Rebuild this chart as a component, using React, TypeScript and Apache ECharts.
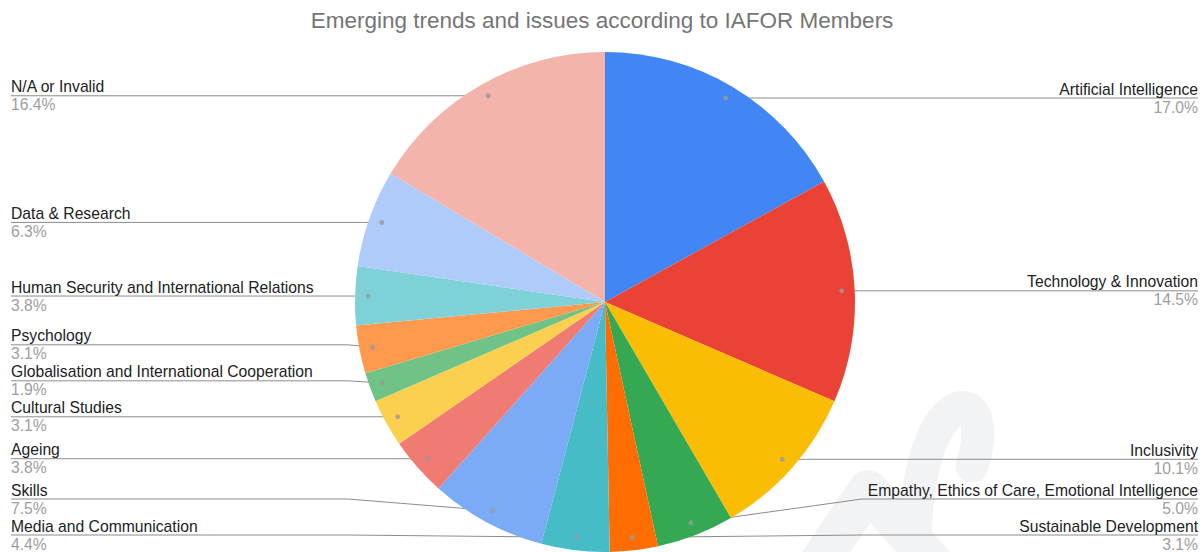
import React, { useEffect, useRef } from 'react';
import * as echarts from 'echarts';

const chartTitle = 'Emerging trends and issues according to IAFOR Members';

const categories = [
  'Artificial Intelligence',
  'Technology & Innovation',
  'Inclusivity',
  'Empathy, Ethics of Care, Emotional Intelligence',
  'Sustainable Development',
  'Media and Communication',
  'Skills',
  'Ageing',
  'Cultural Studies',
  'Globalisation and International Cooperation',
  'Psychology',
  'Human Security and International Relations',
  'Data & Research',
  'N/A or Invalid',
];

const shares = [17.0, 14.5, 10.1, 5.0, 3.1, 4.4, 7.5, 3.8, 3.1, 1.9, 3.1, 3.8, 6.3, 16.4];

const sliceColors = [
  '#4285F4', '#EA4335', '#FBBC04', '#34A853', '#FF6D01', '#46BDC6', '#7BAAF7',
  '#F07B72', '#FCD04F', '#71C287', '#FF994D', '#7ED1D7', '#AECBFA', '#F3B5AB',
];

const FONT = '"Liberation Sans", Arial, Helvetica, sans-serif';
const CX = 605;
const CY = 302;
const R = 250;
const R_DOT = 237;
const LABEL_H = 36;
const LEFT_X = 11;
const RIGHT_X = 1198;
const BOTTOM_LIMIT = 535;

export default function App() {
  const ref = useRef<HTMLDivElement>(null);

  useEffect(() => {
    document.body.style.margin = '0';
    const chart = echarts.init(ref.current as HTMLDivElement, null, { renderer: 'svg' });
    const total = shares.reduce((a, b) => a + b, 0);
    let cum = 0;
    const mids = shares.map((v) => {
      const m = cum + v / 2;
      cum += v;
      return m;
    });
    // anchor points of the leader lines (same geometry as the polar scatter dots)
    const dots = mids.map((m) => {
      const a = (m / total) * 2 * Math.PI;
      return [CX + R_DOT * Math.sin(a), CY - R_DOT * Math.cos(a)];
    });
    const labelY = dots.map((d) => d[1]);
    [true, false].forEach((left) => {
      const idx = dots
        .map((_, i) => i)
        .filter((i) => (dots[i][0] < CX) === left)
        .sort((a, b) => dots[b][1] - dots[a][1]);
      let limit = BOTTOM_LIMIT;
      idx.forEach((i) => {
        const y = Math.min(labelY[i], limit);
        labelY[i] = y;
        limit = y - LABEL_H;
      });
    });

    const visibleData = categories.map((name, i) => ({
      name,
      value: shares[i],
      itemStyle: { color: sliceColors[i] },
    }));
    const labelData = categories.map((name, i) => ({ name, value: shares[i] }));

    chart.setOption({
      animation: false,
      title: {
        text: chartTitle,
        left: 'center',
        top: 4,
        textStyle: { fontFamily: FONT, fontSize: 22.5, fontWeight: 'normal', color: '#757575' },
      },
      polar: { center: [CX, CY], radius: R_DOT },
      angleAxis: { type: 'value', min: 0, max: total, startAngle: 90, clockwise: true, show: false },
      radiusAxis: { type: 'value', min: 0, max: 1, show: false },
      graphic: [
        {
          type: 'polyline',
          silent: true,
          z: -10,
          shape: { points: [[806, 582], [868, 490], [950, 582]] },
          style: { stroke: '#f2f3f5', lineWidth: 40, fill: null, lineJoin: 'round' },
        },
        {
          type: 'bezierCurve',
          silent: true,
          z: -10,
          shape: { x1: 916, y1: 582, cpx1: 904, cpy1: 378, cpx2: 1002, cpy2: 372, x2: 972, y2: 466 },
          style: { stroke: '#f2f3f5', lineWidth: 33, fill: null, lineCap: 'round' },
        },
      ],
      series: [
        {
          type: 'pie',
          center: [CX, CY],
          radius: R,
          startAngle: 90,
          clockwise: true,
          silent: true,
          emphasis: { disabled: true },
          itemStyle: { borderWidth: 0 },
          label: { show: false },
          labelLine: { show: false },
          data: visibleData,
        },
        {
          type: 'pie',
          center: [CX, CY],
          radius: R_DOT,
          startAngle: 90,
          clockwise: true,
          silent: true,
          emphasis: { disabled: true },
          itemStyle: { color: 'transparent', borderWidth: 0 },
          label: {
            show: true,
            position: 'outer',
            alignTo: 'edge',
            edgeDistance: 8,
            formatter: (p: any) => `{n|${p.name}}\n{p|${Number(p.value).toFixed(1)}%}`,
            rich: {
              n: { fontFamily: FONT, fontSize: 15.7, color: '#222222', lineHeight: 18 },
              p: { fontFamily: FONT, fontSize: 15.7, color: '#9e9e9e', lineHeight: 18 },
            },
          },
          labelLine: {
            show: true,
            length: 1,
            length2: 1,
            lineStyle: { color: '#8c8c8c', width: 1 },
          },
          labelLayout: (p: any) => {
            const i = p.dataIndex;
            const sx = dots[i][0];
            const sy = dots[i][1];
            const isLeft = sx < CX;
            const y = labelY[i];
            const x = isLeft ? LEFT_X : RIGHT_X;
            const turnX = isLeft ? CX - R - 7 : CX + R + 7;
            return {
              x,
              y,
              align: isLeft ? 'left' : 'right',
              verticalAlign: 'middle',
              labelLinePoints: [
                [sx, sy],
                [turnX, y],
                [x, y],
              ],
            };
          },
          data: labelData,
        },
        {
          type: 'scatter',
          coordinateSystem: 'polar',
          silent: true,
          symbol: 'circle',
          symbolSize: 5,
          itemStyle: { color: '#9a9a9a' },
          data: mids.map((m) => [1, m]),
        },
      ],
    });

    return () => chart.dispose();
  }, []);

  return <div ref={ref} style={{ width: 1204, height: 552 }} />;
}
